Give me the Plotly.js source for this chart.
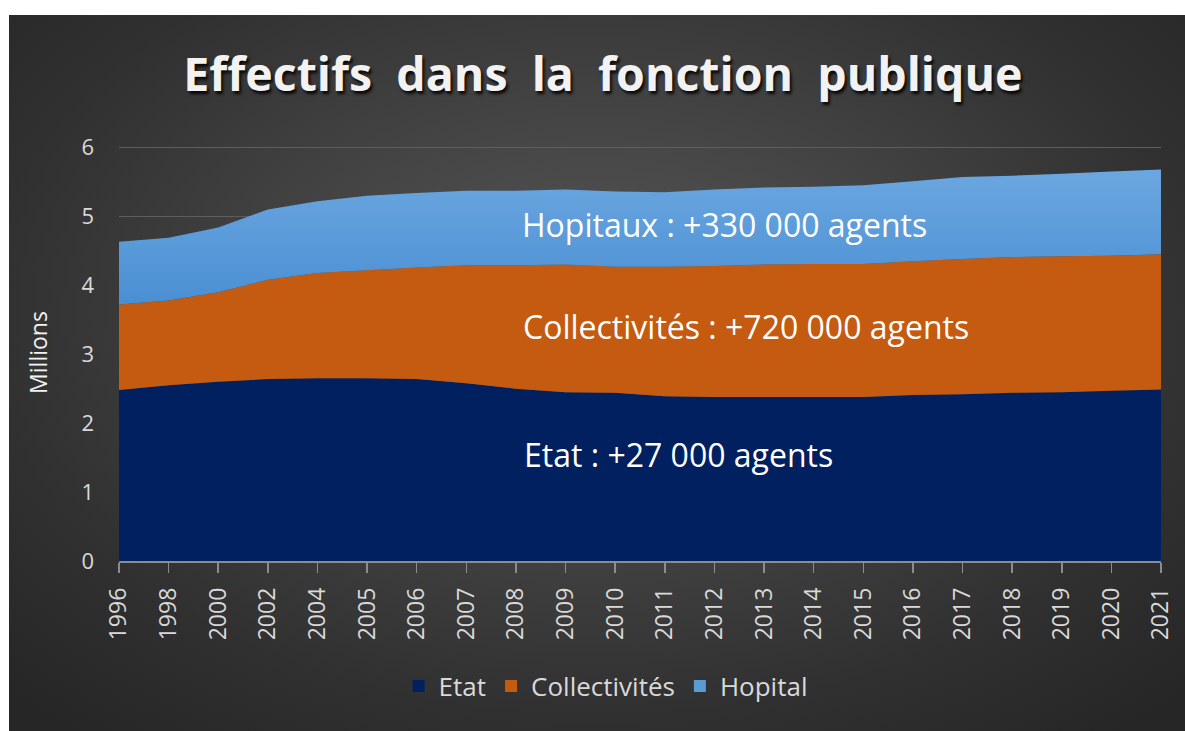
<!DOCTYPE html>
<html>
<head>
<meta charset="utf-8">
<script src="https://cdn.plot.ly/plotly-3.0.1.min.js"></script>
<style>
  html, body { margin: 0; padding: 0; background: #ffffff; width: 1185px; height: 731px; overflow: hidden; }
  #chart {
    position: absolute; left: 9px; top: 15px; width: 1176px; height: 716px;
    background: radial-gradient(ellipse 70% 75% at 50% 42%, #585858 0%, #434343 40%, #303030 75%, #262626 100%);
  }
</style>
</head>
<body>
<div id="chart"></div>
<script>
const years = ["1996","1998","2000","2002","2004","2005","2006","2007","2008","2009","2010",
               "2011","2012","2013","2014","2015","2016","2017","2018","2019","2020","2021"];
// millions d'agents
const etat = [2.48, 2.55, 2.60, 2.64, 2.65, 2.65, 2.64, 2.58, 2.50, 2.45, 2.44,
              2.39, 2.38, 2.38, 2.38, 2.38, 2.41, 2.42, 2.44, 2.45, 2.47, 2.49];
const collectivites = [1.24, 1.23, 1.30, 1.44, 1.53, 1.57, 1.62, 1.71, 1.79, 1.85, 1.83,
                       1.88, 1.90, 1.92, 1.93, 1.93, 1.94, 1.96, 1.97, 1.97, 1.96, 1.96];
const hopital = [0.91, 0.91, 0.94, 1.02, 1.04, 1.08, 1.08, 1.08, 1.08, 1.09, 1.09,
                 1.08, 1.11, 1.12, 1.12, 1.14, 1.16, 1.19, 1.18, 1.20, 1.22, 1.23];
const seriesNames = ["Etat", "Collectivités", "Hopital"];
const annotationsText = ["Hopitaux : +330 000 agents", "Collectivités : +720 000 agents", "Etat : +27 000 agents"];

const cNavy = "#002060", cOrange = "#C55A11", cBlue = "#5B9BD5";
const font = "Open Sans, Liberation Sans, sans-serif";
const txt = "#d9d9d9";

const traces = [
  {x: years, y: etat, type: "scatter", mode: "none", stackgroup: "one", fill: "tonexty",
   fillcolor: cNavy, name: seriesNames[0], showlegend: false, hoverinfo: "skip"},
  {x: years, y: collectivites, type: "scatter", mode: "none", stackgroup: "one", fill: "tonexty",
   fillcolor: cOrange, name: seriesNames[1], showlegend: false, hoverinfo: "skip"},
  {x: years, y: hopital, type: "scatter", mode: "none", stackgroup: "one", fill: "tonexty",
   fillcolor: cBlue, name: seriesNames[2], showlegend: false, hoverinfo: "skip",
   fillgradient: {type: "vertical", colorscale: [[0, "#4A8FD3"], [1, "#6BA7E0"]]}},
  // legend swatches
  {x: [null], y: [null], type: "bar", name: seriesNames[0], marker: {color: cNavy}, showlegend: true},
  {x: [null], y: [null], type: "bar", name: seriesNames[1], marker: {color: cOrange}, showlegend: true},
  {x: [null], y: [null], type: "bar", name: seriesNames[2], marker: {color: cBlue}, showlegend: true}
];

const layout = {
  width: 1176, height: 716,
  paper_bgcolor: "rgba(0,0,0,0)", plot_bgcolor: "rgba(0,0,0,0)",
  margin: {l: 110, r: 24, t: 129, b: 170},
  font: {family: font, color: txt},
  title: {
    text: "Effectifs  dans  la  fonction  publique",
    x: 0.505, xanchor: "center", y: 0.917, yanchor: "middle",
    font: {family: font, size: 46.5, color: "#f2f2f2", weight: 700, shadow: "2px 3px 3px rgba(0,0,0,0.85)"}
  },
  showlegend: true,
  legend: {orientation: "h", x: 0.467, xanchor: "center", y: -0.30, yanchor: "middle",
           font: {family: font, size: 26, color: txt}, bgcolor: "rgba(0,0,0,0)", traceorder: "normal"},
  xaxis: {
    type: "category", range: [0, 21], fixedrange: true,
    showgrid: false, showline: true, linecolor: "#8c8c8c", linewidth: 1.5,
    ticks: "outside", ticklen: 10, tickcolor: "#8c8c8c", tickwidth: 1.5,
    tickangle: -90, tickfont: {family: font, size: 23, color: txt},
    ticklabelstandoff: 6
  },
  yaxis: {
    range: [0, 6.05], tick0: 0, dtick: 1, fixedrange: true,
    showgrid: true, gridcolor: "#5e5e5e", gridwidth: 1, zeroline: false,
    showline: false, ticks: "",
    tickfont: {family: font, size: 22, color: txt},
    ticklabelstandoff: 24,
    title: {text: "Millions", font: {family: font, size: 23, color: "#f2f2f2"}, standoff: 27}
  },
  annotations: [
    {text: annotationsText[0], xref: "paper", yref: "paper", x: 0.385, y: 0.806, xanchor: "left", yanchor: "middle",
     showarrow: false, font: {family: font, size: 32, color: "#ffffff"}},
    {text: annotationsText[1], xref: "paper", yref: "paper", x: 0.386, y: 0.562, xanchor: "left", yanchor: "middle",
     showarrow: false, font: {family: font, size: 32, color: "#ffffff"}},
    {text: annotationsText[2], xref: "paper", yref: "paper", x: 0.387, y: 0.256, xanchor: "left", yanchor: "middle",
     showarrow: false, font: {family: font, size: 32, color: "#ffffff"}}
  ]
};

Plotly.newPlot("chart", traces, layout, {displayModeBar: false, staticPlot: true});
</script>
</body>
</html>
